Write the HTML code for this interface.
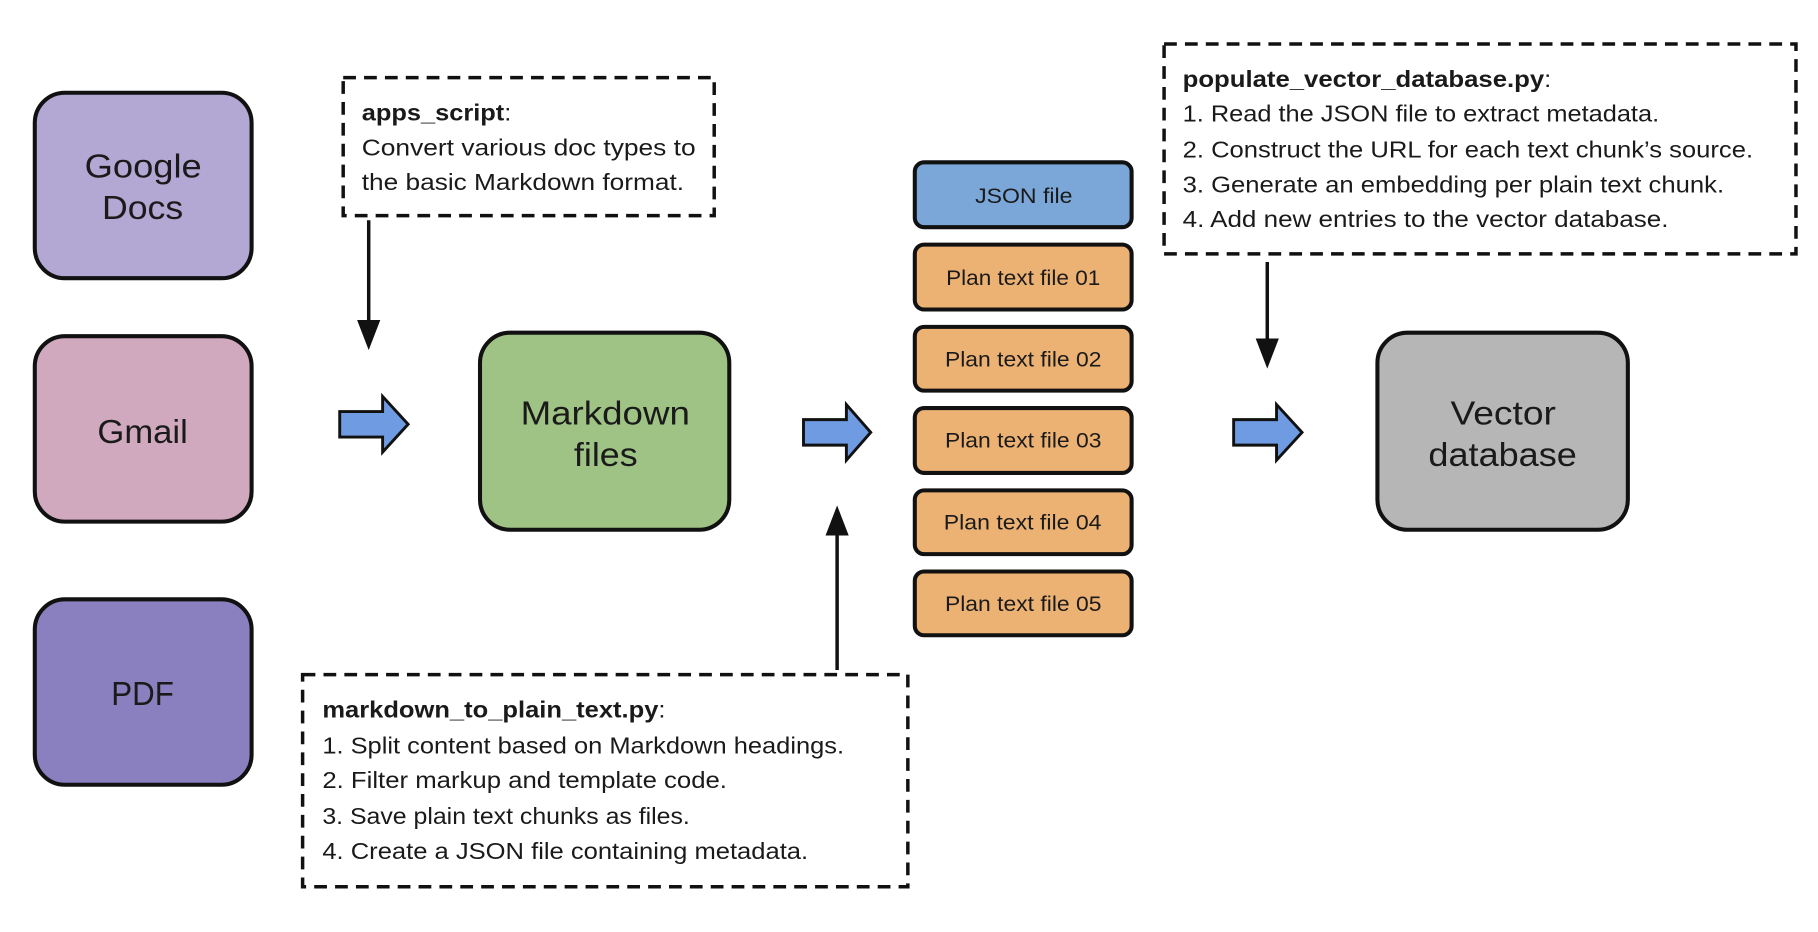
<!DOCTYPE html>
<html><head><meta charset="utf-8"><style>
html,body{margin:0;padding:0;background:#fff;}
svg{display:block;}
text{font-family:"Liberation Sans",sans-serif;fill:#1a1a1a;}
</style></head><body>
<svg width="1818" height="932" viewBox="0 0 1568 804" preserveAspectRatio="none" xmlns="http://www.w3.org/2000/svg">
<g stroke="#111" stroke-width="3.5">
<rect x="30" y="80" width="187" height="160" rx="26" fill="#b3a7d3"/>
<rect x="30" y="290" width="187" height="160" rx="26" fill="#d0a9be"/>
<rect x="30" y="517" width="187" height="160" rx="26" fill="#8b80bf"/>
<rect x="414" y="287" width="215" height="170" rx="26" fill="#9fc385"/>
<rect x="1188" y="287" width="216" height="170" rx="26" fill="#b6b6b6"/>
<rect x="789" y="140" width="187" height="56" rx="8" fill="#7ba7d8"/>
<rect x="789" y="211" width="187" height="56" rx="8" fill="#ecb273"/>
<rect x="789" y="282" width="187" height="55" rx="8" fill="#ecb273"/>
<rect x="789" y="352" width="187" height="56" rx="8" fill="#ecb273"/>
<rect x="789" y="423" width="187" height="55" rx="8" fill="#ecb273"/>
<rect x="789" y="493" width="187" height="55" rx="8" fill="#ecb273"/>
</g>
<g fill="none" stroke="#111" stroke-width="3" stroke-dasharray="11,7">
<rect x="296" y="67" width="320" height="119"/>
<rect x="261" y="582" width="522" height="183"/>
<rect x="1004" y="38" width="545" height="181"/>
</g>
<g stroke="#111" stroke-width="3" fill="#111">
<line x1="318" y1="190" x2="318" y2="278"/><polygon points="308,276 328,276 318,302" stroke="none"/>
<line x1="722" y1="578" x2="722" y2="460"/><polygon points="712,462 732,462 722,436" stroke="none"/>
<line x1="1093" y1="226" x2="1093" y2="294"/><polygon points="1083,292 1103,292 1093,318" stroke="none"/>
</g>
<g fill="#6f9be3" stroke="#111" stroke-width="2.5" stroke-linejoin="miter">
<polygon points="293,355 330,355 330,342 352,366 330,390 330,377 293,377"/>
<polygon points="693,362 730,362 730,349 751,373 730,397 730,384 693,384"/>
<polygon points="1064,362 1101,362 1101,349 1123,373 1101,397 1101,384 1064,384"/>
</g>
<g font-size="29">
<text x="73" y="153" textLength="101" lengthAdjust="spacingAndGlyphs">Google</text><text x="88" y="189" textLength="70" lengthAdjust="spacingAndGlyphs">Docs</text>
<text x="84" y="382" textLength="78" lengthAdjust="spacingAndGlyphs">Gmail</text>
<text x="96" y="608" textLength="54" lengthAdjust="spacingAndGlyphs">PDF</text>
<text x="449" y="366" textLength="146" lengthAdjust="spacingAndGlyphs">Markdown</text><text x="495" y="402" textLength="55" lengthAdjust="spacingAndGlyphs">files</text>
<text x="1251" y="366" textLength="91" lengthAdjust="spacingAndGlyphs">Vector</text><text x="1232" y="402" textLength="128" lengthAdjust="spacingAndGlyphs">database</text>
</g>
<g font-size="18">
<text x="841" y="175" textLength="84" lengthAdjust="spacingAndGlyphs">JSON file</text>
<text x="816" y="246" textLength="133" lengthAdjust="spacingAndGlyphs">Plan text file 01</text>
<text x="815" y="316" textLength="135" lengthAdjust="spacingAndGlyphs">Plan text file 02</text>
<text x="815" y="386" textLength="135" lengthAdjust="spacingAndGlyphs">Plan text file 03</text>
<text x="814" y="457" textLength="136" lengthAdjust="spacingAndGlyphs">Plan text file 04</text>
<text x="815" y="527" textLength="135" lengthAdjust="spacingAndGlyphs">Plan text file 05</text>
</g>
<g font-size="20" lengthAdjust="spacingAndGlyphs">
<text x="312" y="104" textLength="129" lengthAdjust="spacingAndGlyphs"><tspan font-weight="bold">apps_script</tspan>:</text>
<text x="312" y="134" textLength="288" lengthAdjust="spacingAndGlyphs">Convert various doc types to</text>
<text x="312" y="164" textLength="278" lengthAdjust="spacingAndGlyphs">the basic Markdown format.</text>
<text x="278" y="619" textLength="296" lengthAdjust="spacingAndGlyphs"><tspan font-weight="bold">markdown_to_plain_text.py</tspan>:</text>
<text x="278" y="650" textLength="450" lengthAdjust="spacingAndGlyphs">1. Split content based on Markdown headings.</text>
<text x="278" y="680" textLength="349" lengthAdjust="spacingAndGlyphs">2. Filter markup and template code.</text>
<text x="278" y="711" textLength="317" lengthAdjust="spacingAndGlyphs">3. Save plain text chunks as files.</text>
<text x="278" y="741" textLength="419" lengthAdjust="spacingAndGlyphs">4. Create a JSON file containing metadata.</text>
<text x="1020" y="75" textLength="318" lengthAdjust="spacingAndGlyphs"><tspan font-weight="bold">populate_vector_database.py</tspan>:</text>
<text x="1020" y="105" textLength="411" lengthAdjust="spacingAndGlyphs">1. Read the JSON file to extract metadata.</text>
<text x="1020" y="136" textLength="492" lengthAdjust="spacingAndGlyphs">2. Construct the URL for each text chunk’s source.</text>
<text x="1020" y="166" textLength="467" lengthAdjust="spacingAndGlyphs">3. Generate an embedding per plain text chunk.</text>
<text x="1020" y="196" textLength="419" lengthAdjust="spacingAndGlyphs">4. Add new entries to the vector database.</text>
</g>
</svg>
</body></html>
